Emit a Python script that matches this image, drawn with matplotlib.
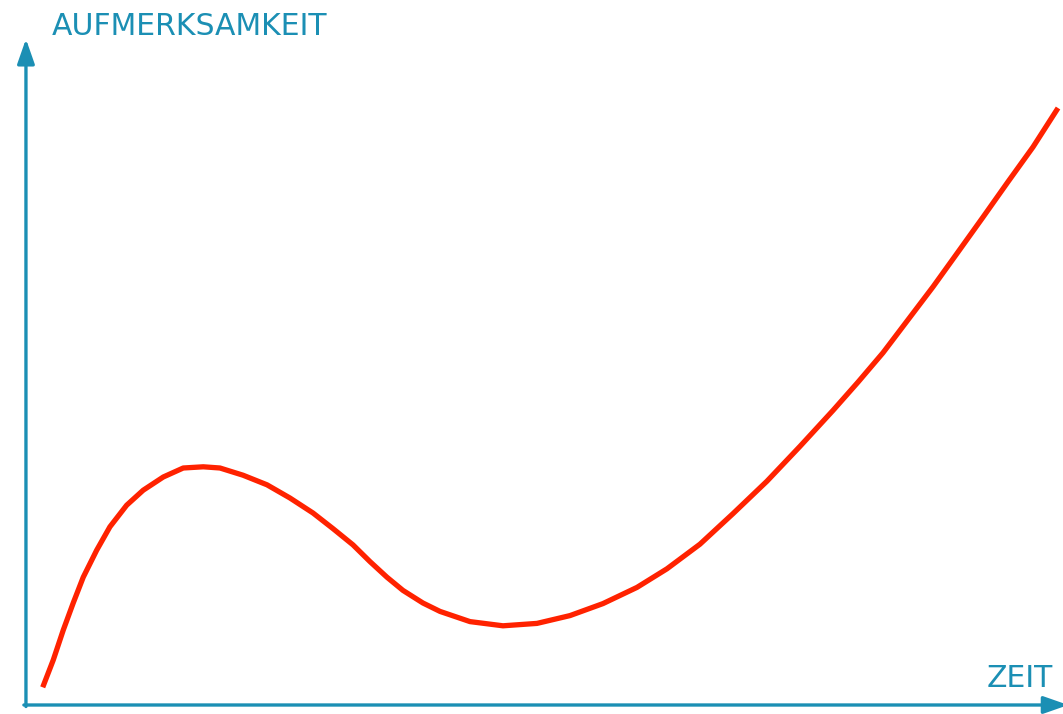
import matplotlib
matplotlib.use("Agg")
import matplotlib.pyplot as plt

# attention over time (arbitrary units)
zeit = [1.62, 2.64, 3.61, 4.57, 5.54, 6.84, 8.12, 9.74, 11.34, 13.28, 15.21, 17.15,
        18.76, 20.99, 23.31, 25.53, 27.76, 29.69, 31.62, 33.27, 34.91, 36.46, 38.39,
        40.04, 42.94, 46.13, 49.42, 52.61, 55.80, 59.09, 61.99, 65.18, 68.38, 71.66,
        74.85, 78.05, 80.46, 82.88, 85.30, 87.72, 90.14, 92.55, 94.97, 97.39, 99.81]
aufmerksamkeit = [2.95, 7.5, 12.5, 17.0, 21.3, 25.8, 29.7, 33.3, 35.8, 38.0, 39.5, 39.7,
                  39.5, 38.3, 36.7, 34.5, 32.0, 29.4, 26.7, 23.9, 21.3, 19.1, 17.0,
                  15.6, 13.9, 13.2, 13.6, 14.9, 16.9, 19.6, 22.7, 26.8, 31.9, 37.3,
                  43.1, 49.1, 53.8, 58.7, 64.2, 69.7, 75.5, 81.3, 87.2, 93.0, 99.5]

blau = "#1b8fb4"
rot = "#ff2200"

fig = plt.figure(figsize=(10.63, 7.14), dpi=100)
ax = fig.add_axes([0, 0, 1, 1])
ax.set_xlim(-2.51, 100.29)
ax.set_ylim(-1.5, 117.5)
ax.axis("off")

# axes with arrows
pfeil = dict(arrowstyle="-|>,head_length=1.0,head_width=0.35", color=blau, lw=2.4,
             mutation_scale=15, shrinkA=0, shrinkB=0)
ax.annotate("", xy=(0, 111.0), xytext=(0, -0.25), arrowprops=pfeil,
            annotation_clip=False)
ax.annotate("", xy=(100.8, 0), xytext=(-0.2, 0), arrowprops=pfeil,
            annotation_clip=False)

ax.text(2.5, 111.67, "AUFMERKSAMKEIT", color=blau, fontsize=21.5, family="DejaVu Sans",
        ha="left", va="baseline")
ax.text(99.3, 3.0, "ZEIT", color=blau, fontsize=21.5, family="DejaVu Sans",
        ha="right", va="baseline")

ax.plot(zeit, aufmerksamkeit, color=rot, lw=3.8, solid_capstyle="butt",
        solid_joinstyle="round")

fig.savefig("out.png", dpi=100)
